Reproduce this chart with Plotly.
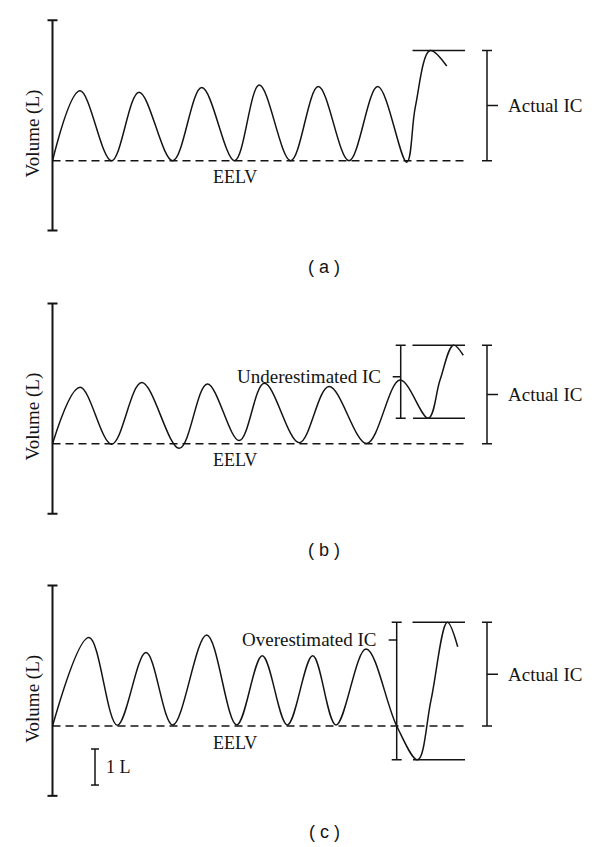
import plotly.graph_objects as go

# key points of the volume traces: time (s) and volume above EELV (L)
time_a = [0, 0.917, 1.967, 2.883, 4.007, 4.973, 6.07, 6.893, 7.94, 8.86, 9.883, 10.84, 11.807, 12.093, 12.583, 13.14]
vol_a = [0, 1.94, 0, 1.90, 0, 2.03, 0, 2.10, 0, 2.06, 0, 2.06, -0.04, 1.49, 3.06, 2.63]

time_b = [0, 0.917, 1.973, 2.973, 4.227, 5.16, 6.227, 7.06, 8.227, 9.217, 10.473, 11.583, 12.527, 12.917, 13.36, 13.693]
vol_b = [0, 1.57, -0.01, 1.70, -0.125, 1.66, 0.09, 1.68, 0.03, 1.59, 0.01, 1.77, 0.71, 1.77, 2.74, 2.46]

time_c = [0, 1.217, 2.16, 3.117, 4.007, 5.14, 6.14, 6.993, 7.827, 8.673, 9.45, 10.45, 11.473, 12.173, 12.617, 13.16, 13.507]
vol_c = [0, 2.46, 0.02, 2.04, 0.03, 2.53, 0.03, 1.95, 0.03, 1.95, 0.03, 2.14, 0, -0.94, 0.72, 2.88, 2.20]

panel_labels = ["( a )", "( b )", "( c )"]
actual_ic = [3.06, 2.74, 2.88]          # peak of the maximal inspiration
ic_low = [None, 0.71, -0.94]            # trough before the maximal inspiration
partial_text = [None, "Underestimated IC", "Overestimated IC"]
partial_text_y = [None, 1.86, 2.39]
scale_bar = [-0.64, -1.64]              # 1 L reference bar in (c)

# layout, in pixels of the reference page (the browser adds an 8px body margin)
W, H = 600, 847
PAD = 8
PX_PER_S, PX_PER_L = 30.0, 36.0
X0_PX = 52.5
EELV_PX = [160.7, 443.8, 726.0]
Y_RANGE = [-3.5, 4.2]
AXIS_SPAN = [-1.94, 3.9]
SERIF = "Liberation Serif"
INK = "#141414"

t_of = lambda px: (px - X0_PX) / PX_PER_S
CAP = 5 / PX_PER_S

fig = go.Figure()


def seg_trace(xs, ys, i, width=1.5, dash=None):
    fig.add_trace(go.Scatter(x=xs, y=ys, mode="lines", xaxis=f"x{i}", yaxis=f"y{i}",
                             line=dict(color=INK, width=width, dash=dash),
                             hoverinfo="skip", showlegend=False))


def bracket(i, x, y0, y1, tick_x, tick_y, width=1.5):
    xs = [x, x, None, x - CAP, x + CAP, None, x - CAP, x + CAP, None, x, tick_x]
    ys = [y0, y1, None, y0, y0, None, y1, y1, None, tick_y, tick_y]
    seg_trace(xs, ys, i, width)


series = [(time_a, vol_a), (time_b, vol_b), (time_c, vol_c)]
for k, (ts, vs) in enumerate(series):
    i = k + 1
    # axis with caps
    bracket(i, 0, AXIS_SPAN[0], AXIS_SPAN[1], 0, AXIS_SPAN[0], width=2)
    # EELV dashed line
    seg_trace([0, t_of(467)], [0, 0], i, width=1.5, dash="8px,5px")
    # volume trace
    fig.add_trace(go.Scatter(x=ts, y=vs, mode="lines", xaxis=f"x{i}", yaxis=f"y{i}",
                             line=dict(color=INK, width=1.5, shape="spline", smoothing=1.0),
                             hoverinfo="skip", showlegend=False))
    # horizontal marks at IC extremes
    seg_trace([t_of(412.5), t_of(465)], [actual_ic[k], actual_ic[k]], i)
    if ic_low[k] is not None:
        seg_trace([t_of(413), t_of(465)], [ic_low[k], ic_low[k]], i)
    # actual IC bracket
    bracket(i, t_of(487), 0, actual_ic[k], t_of(498), actual_ic[k] / 2)
    fig.add_annotation(x=t_of(506), y=actual_ic[k] / 2, xref=f"x{i}", yref=f"y{i}",
                       text="Actual IC", showarrow=False, xanchor="left", yanchor="middle",
                       font=dict(family=SERIF, size=19, color=INK))
    # under/over estimated bracket
    if ic_low[k] is not None:
        px_x = 400.7 if k == 1 else 396.7
        bracket(i, t_of(px_x), ic_low[k], actual_ic[k], t_of(px_x - 8), partial_text_y[k])
        fig.add_annotation(x=t_of(px_x - 18), y=partial_text_y[k], xref=f"x{i}", yref=f"y{i}",
                           text=partial_text[k], showarrow=False, xanchor="right", yanchor="middle",
                           font=dict(family=SERIF, size=19, color=INK))
    # labels
    fig.add_annotation(x=t_of(234.6), y=-0.46, xref=f"x{i}", yref=f"y{i}", text="EELV",
                       showarrow=False, font=dict(family=SERIF, size=18, color=INK))
    fig.add_annotation(x=t_of(32.7), y=0.75, xref=f"x{i}", yref=f"y{i}", text="Volume (L)",
                       textangle=-90, showarrow=False, font=dict(family=SERIF, size=19, color=INK))
    fig.add_annotation(x=t_of(324), y=-2.95, xref=f"x{i}", yref=f"y{i}", text=panel_labels[k],
                       showarrow=False, font=dict(family="Liberation Sans", size=18, color=INK))

    top_px = EELV_PX[k] - Y_RANGE[1] * PX_PER_L - PAD
    bot_px = EELV_PX[k] - Y_RANGE[0] * PX_PER_L - PAD
    fig.update_layout({
        f"xaxis{i}": dict(domain=[0, 1], range=[t_of(PAD), t_of(W + PAD)], visible=False, anchor=f"y{i}"),
        f"yaxis{i}": dict(domain=[1 - bot_px / H, 1 - top_px / H], range=Y_RANGE,
                          visible=False, anchor=f"x{i}"),
    })

# 1 L reference bar
bar_cap = 4 / PX_PER_S
sb_x = t_of(95)
seg_trace([sb_x, sb_x, None, sb_x - bar_cap, sb_x + bar_cap, None, sb_x - bar_cap, sb_x + bar_cap],
          [scale_bar[0], scale_bar[1], None, scale_bar[0], scale_bar[0], None, scale_bar[1], scale_bar[1]],
          3)
fig.add_annotation(x=t_of(104), y=sum(scale_bar) / 2, xref="x3", yref="y3", text="1 L",
                   showarrow=False, xanchor="left", yanchor="middle",
                   font=dict(family=SERIF, size=18, color=INK))

fig.update_layout(width=W, height=H, margin=dict(l=0, r=0, t=0, b=0),
                  paper_bgcolor="white", plot_bgcolor="white", showlegend=False)
fig.write_html("out.html")
